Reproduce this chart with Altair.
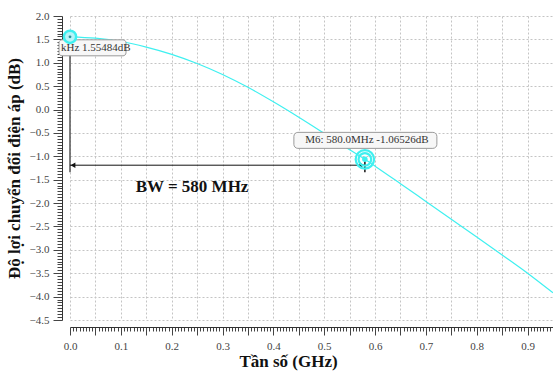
import altair as alt
import pandas as pd

# ---- data ----
freq_ghz = [0.00, 0.05, 0.10, 0.15, 0.20, 0.25, 0.30, 0.35, 0.40, 0.45, 0.50,
            0.55, 0.58, 0.60, 0.65, 0.70, 0.75, 0.80, 0.85, 0.90, 0.95]
gain_db = [1.555, 1.525, 1.455, 1.335, 1.180, 0.985, 0.750, 0.475, 0.165, -0.165, -0.510,
           -0.860, -1.065, -1.210, -1.585, -1.965, -2.345, -2.725, -3.110, -3.500, -3.920]

m1_f, m1_g = 0.0, 1.55484
m6_f, m6_g = 0.58, -1.06526
m1_label = "kHz 1.55484dB"
m6_label = "M6: 580.0MHz -1.06526dB"
bw_label = "BW = 580 MHz"
bw_level = -1.19          # level of the double arrow
guide_bottom = -1.34      # bottom of marker guide lines
m6_guide_top = -1.03
bw_text_f, bw_text_g = 0.24, -1.66

x_title = "Tần số (GHz)"
y_title = "Độ lợi chuyển đổi điện áp (dB)"

x_ticks = [round(i * 0.05 / 8, 5) for i in range(153)]
y_ticks = [round(-4.5 + i * 0.0625, 4) for i in range(105)]

FONT = "Liberation Serif"
CYAN = "#3ff0f0"

x_major = "abs(datum.value*20 - round(datum.value*20)) < 0.0001"
x_label = "abs(datum.value*10 - round(datum.value*10)) < 0.0001"
y_major = "abs(datum.value*2 - round(datum.value*2)) < 0.0001"

x_axis = alt.Axis(
    values=x_ticks, title=x_title, offset=7,
    labelExpr=f"({x_label}) ? format(datum.value, '.1f') : ''",
    tickSize={"condition": {"test": x_major, "value": 8}, "value": 4},
    gridOpacity={"condition": {"test": x_major, "value": 1}, "value": 0},
    grid=True, gridDash=[2, 2], gridColor="#c4c4c4", gridWidth=1,
    domainColor="#333", tickColor="#444", tickWidth=1,
    labelFont=FONT, labelFontSize=11, labelColor="#444", labelPadding=5,
    labelOverlap=False, labelFlush=False,
    titleFont=FONT, titleFontSize=17, titleFontWeight="bold", titleColor="#111",
    titlePadding=2, titleX=218,
)
y_axis = alt.Axis(
    values=y_ticks, title=y_title, offset=8,
    labelExpr=f"({y_major}) ? format(datum.value, '.1f') : ''",
    tickSize={"condition": {"test": y_major, "value": 9}, "value": 5},
    gridOpacity={"condition": {"test": y_major, "value": 1}, "value": 0},
    grid=True, gridDash=[2, 2], gridColor="#c4c4c4", gridWidth=1,
    domainColor="#333", tickColor="#444", tickWidth=1,
    labelFont=FONT, labelFontSize=11, labelColor="#444", labelPadding=4,
    labelOverlap=False, labelFlush=False,
    titleFont=FONT, titleFontSize=17, titleFontWeight="bold", titleColor="#111",
    titlePadding=6,
)

xs = alt.Scale(domain=[0, 0.95], nice=False, zero=False)
ys = alt.Scale(domain=[-4.5, 2.0], nice=False, zero=False)


def X(field="f"):
    return alt.X(f"{field}:Q", scale=xs, axis=x_axis)


def Y(field="g"):
    return alt.Y(f"{field}:Q", scale=ys, axis=y_axis)


curve_df = pd.DataFrame({"f": freq_ghz, "g": gain_db})
curve = alt.Chart(curve_df).mark_line(color=CYAN, strokeWidth=1.2, interpolate="monotone").encode(
    x=X(), y=Y())

# guide lines
guides_df = pd.DataFrame({"f": [m1_f, m6_f], "g": [m1_g, m6_guide_top],
                          "g2": [guide_bottom, guide_bottom], "c": ["#555", "#111"]})
guides = alt.Chart(guides_df).mark_rule(strokeWidth=1.5).encode(
    x=X(), y=Y(), y2="g2:Q", color=alt.Color("c:N", scale=None))

# double arrow
arrow_df = pd.DataFrame({"f": [m1_f], "f2": [m6_f], "g": [bw_level]})
arrow = alt.Chart(arrow_df).mark_rule(color="#111", strokeWidth=1).encode(
    x=X(), x2="f2:Q", y=Y())
head_l = alt.Chart(pd.DataFrame({"f": [m1_f], "g": [bw_level]})).mark_point(
    shape="triangle-left", filled=True, color="#111", size=30, opacity=1, xOffset=3).encode(x=X(), y=Y())
head_r = alt.Chart(pd.DataFrame({"f": [m6_f], "g": [bw_level]})).mark_point(
    shape="triangle-right", filled=True, color="#111", size=30, opacity=1, xOffset=-3).encode(x=X(), y=Y())

# markers
m1_df = pd.DataFrame({"f": [m1_f], "g": [m1_g]})
m6_df = pd.DataFrame({"f": [m6_f], "g": [m6_g]})
m1_ring = alt.Chart(m1_df).mark_point(shape="circle", size=150, stroke=CYAN, strokeWidth=2.5,
                                      fill="#b8f4f8", filled=False, opacity=1, fillOpacity=1).encode(x=X(), y=Y())
m1_dot = alt.Chart(m1_df).mark_point(shape="circle", size=8, filled=True, color="#2a8f9a", opacity=1).encode(x=X(), y=Y())
m6_layers = []
for sz, sw in [(340, 2.2), (160, 2.2)]:
    m6_layers.append(alt.Chart(m6_df).mark_point(shape="circle", size=sz, stroke=CYAN, strokeWidth=sw,
                                                 filled=False, opacity=1).encode(x=X(), y=Y()))
m6_layers.append(alt.Chart(m6_df).mark_point(shape="circle", size=30, filled=True, color=CYAN,
                                             opacity=1).encode(x=X(), y=Y()))

# label boxes
box1 = alt.Chart(m1_df).mark_rect(xOffset=-11, x2Offset=56, yOffset=3, y2Offset=19, cornerRadius=3,
                                  fill="#f7f7f7", stroke="#9a9a9a", strokeWidth=1).encode(
    x=X(), x2="f:Q", y=Y(), y2="g:Q")
text1 = alt.Chart(m1_df).mark_text(text=m1_label, align="left", baseline="middle", dx=-9, dy=11,
                                   font=FONT, fontSize=11, color="#333").encode(x=X(), y=Y())
box6 = alt.Chart(m6_df).mark_rect(xOffset=-71, x2Offset=72, yOffset=-27, y2Offset=-11, cornerRadius=4,
                                  fill="#f7f7f7", stroke="#9a9a9a", strokeWidth=1).encode(
    x=X(), x2="f:Q", y=Y(), y2="g:Q")
text6 = alt.Chart(m6_df).mark_text(text=m6_label, align="center", baseline="middle", dx=2, dy=-19,
                                   font=FONT, fontSize=11, color="#333").encode(x=X(), y=Y())

bw = alt.Chart(pd.DataFrame({"f": [bw_text_f], "g": [bw_text_g]})).mark_text(
    text=bw_label, align="center", baseline="middle", font=FONT, fontSize=17, fontWeight="bold",
    color="#111").encode(x=X(), y=Y())

chart = alt.layer(curve, guides, arrow, head_l, head_r, box1, text1, box6, text6,
                  m1_ring, m1_dot, *m6_layers, bw).properties(
    width=483, height=304,
    padding={"left": 70, "top": 16, "right": 0, "bottom": 56},
    autosize=alt.AutoSizeParams(type="none"),
    background="white",
).configure_view(stroke=None)

chart.save("out.html", embed_options={"renderer": "svg", "actions": False})
